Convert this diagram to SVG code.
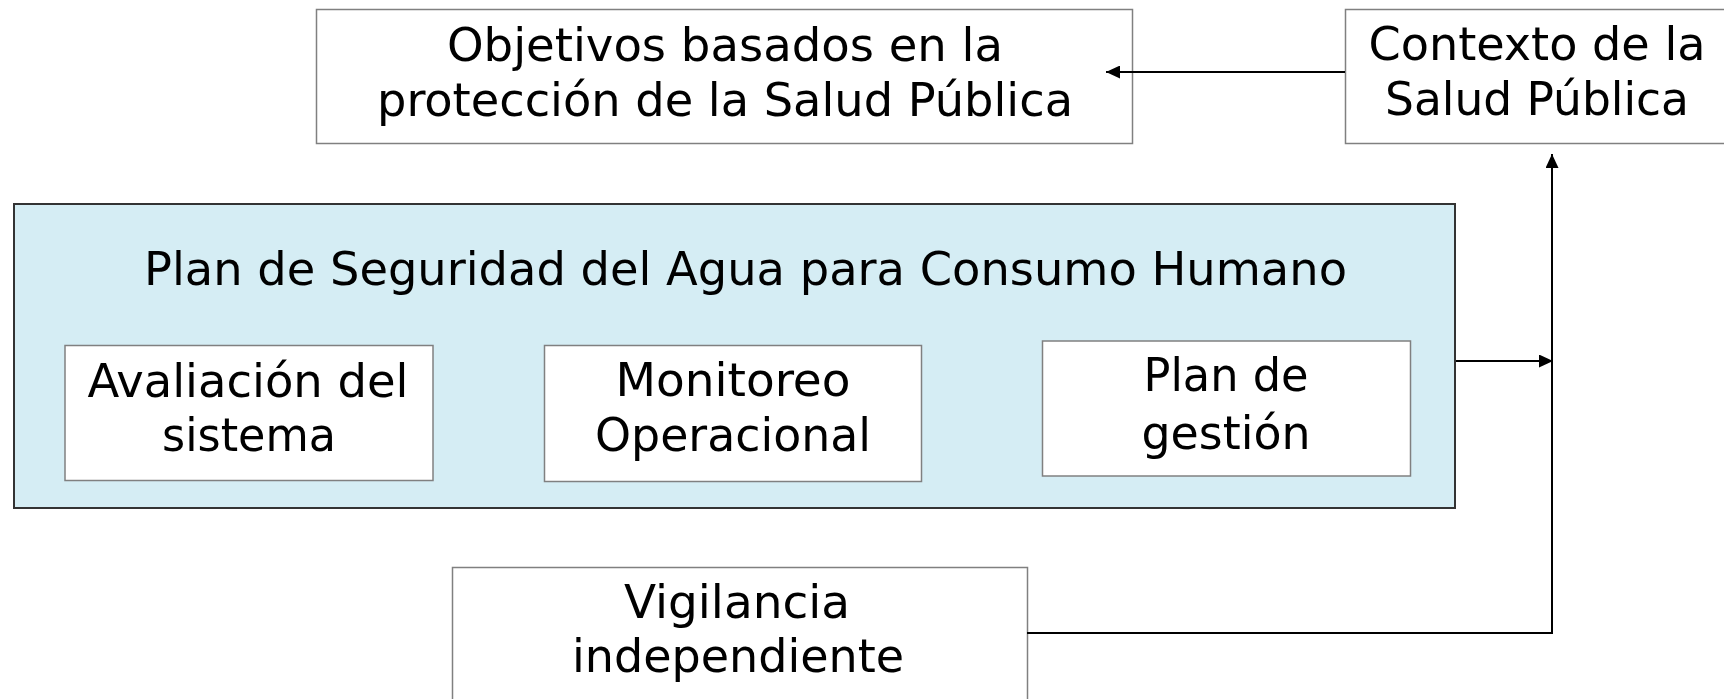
<svg xmlns="http://www.w3.org/2000/svg" width="1724" height="699" viewBox="0 0 1724 699">
<style>
.box{fill:#fff;stroke:#808080;stroke-width:1.5}
.plan{fill:#d5edf4;stroke:#333;stroke-width:2}
.t{font-family:"DejaVu Sans Condensed","DejaVu Sans",sans-serif;font-size:47px;fill:#000;text-anchor:middle}
.c{fill:none;stroke:#000;stroke-width:2}
</style>
<defs>
<marker id="ah" viewBox="0 0 14 13" refX="14" refY="6.5" markerWidth="14" markerHeight="13" markerUnits="userSpaceOnUse" orient="auto">
<path d="M0,0 L14,6.5 L0,13 Z" fill="#000"/>
</marker>
</defs>
<g id="objetivos">
<rect class="box" x="316.5" y="9.5" width="816" height="134"/>
<text class="t" x="725" y="61" textLength="556" lengthAdjust="spacingAndGlyphs">Objetivos basados en la</text>
<text class="t" x="725" y="116" textLength="696" lengthAdjust="spacingAndGlyphs">protección de la Salud Pública</text>
</g>
<g id="contexto">
<rect class="box" x="1345.5" y="9.5" width="400" height="134"/>
<text class="t" x="1537" y="60" textLength="337" lengthAdjust="spacingAndGlyphs">Contexto de la</text>
<text class="t" x="1537" y="115" textLength="304" lengthAdjust="spacingAndGlyphs">Salud Pública</text>
</g>
<g id="plan">
<rect class="plan" x="14" y="204" width="1441" height="304"/>
<text class="t" x="745.5" y="285" textLength="1203" lengthAdjust="spacingAndGlyphs">Plan de Seguridad del Agua para Consumo Humano</text>
</g>
<g id="avaliacion">
<rect class="box" x="65" y="345.5" width="368" height="135"/>
<text class="t" x="248" y="397" textLength="321" lengthAdjust="spacingAndGlyphs">Avaliación del</text>
<text class="t" x="249" y="451" textLength="174" lengthAdjust="spacingAndGlyphs">sistema</text>
</g>
<g id="monitoreo">
<rect class="box" x="544.5" y="345.5" width="377" height="136"/>
<text class="t" x="733" y="396" textLength="235" lengthAdjust="spacingAndGlyphs">Monitoreo</text>
<text class="t" x="733" y="451" textLength="276" lengthAdjust="spacingAndGlyphs">Operacional</text>
</g>
<g id="gestion">
<rect class="box" x="1042.5" y="341" width="368" height="135"/>
<text class="t" x="1226" y="391" textLength="165" lengthAdjust="spacingAndGlyphs">Plan de</text>
<text class="t" x="1226" y="449" textLength="169" lengthAdjust="spacingAndGlyphs">gestión</text>
</g>
<g id="vigilancia">
<rect class="box" x="452.5" y="567.5" width="575" height="150"/>
<text class="t" x="737" y="618" textLength="226" lengthAdjust="spacingAndGlyphs">Vigilancia</text>
<text class="t" x="738" y="672" textLength="332" lengthAdjust="spacingAndGlyphs">independiente</text>
</g>
<g id="connectors">
<line class="c" x1="1345" y1="72" x2="1106" y2="72" marker-end="url(#ah)"/>
<line class="c" x1="1456" y1="361" x2="1553" y2="361" marker-end="url(#ah)"/>
<polyline class="c" points="1027,633 1552,633 1552,154" marker-end="url(#ah)"/>
</g>
</svg>
